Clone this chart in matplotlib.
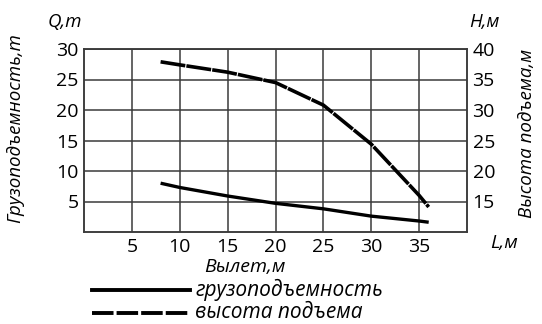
import matplotlib
matplotlib.use("Agg")
import matplotlib.pyplot as plt
from matplotlib.lines import Line2D

plt.rcParams["lines.scale_dashes"] = False

# reach, m
reach = [8, 10, 15, 20, 25, 30, 35, 36]
# lifting capacity Q, t (left axis)
capacity = [8.0, 7.3, 5.9, 4.7, 3.8, 2.6, 1.8, 1.6]
# lifting height H, m (right axis)
height = [37.9, 37.4, 36.2, 34.5, 30.8, 24.4, 16.0, 14.1]

xticks = [5, 10, 15, 20, 25, 30, 35]
qticks = [5, 10, 15, 20, 25, 30]
hticks = [15, 20, 25, 30, 35, 40]

FAM = ["Open Sans", "DejaVu Sans"]
grid_c = "#3a3a3a"

fig = plt.figure(figsize=(5.42, 3.24), dpi=100)
ax = fig.add_axes([84 / 542, 1 - 232 / 324, (467 - 84) / 542, (232 - 49) / 324])
ax2 = ax.twinx()

ax.set_xlim(0, 40)
ax.set_ylim(0, 30)
ax2.set_ylim(10, 40)

ax.set_xticks(xticks)
ax.set_yticks(qticks)
ax2.set_yticks(hticks)
ax.grid(True, color=grid_c, linewidth=1.1)
for a in (ax, ax2):
    a.tick_params(length=0, labelsize=14, colors="black", pad=4)
    for s in a.spines.values():
        s.set_color(grid_c)
        s.set_linewidth(1.1)
for lab in ax.get_xticklabels() + ax.get_yticklabels() + ax2.get_yticklabels():
    lab.set_family(FAM)

ax.plot(reach, capacity, color="black", linewidth=2.4, solid_capstyle="butt")
ax2.plot(reach, height, color="black", linewidth=2.6,
         linestyle=(0, (18, 0.8)), dash_capstyle="butt")

it = dict(family=FAM, style="italic", fontsize=13.5, color="black")
fig.text(48 / 542, 1 - 22 / 324, "Q,т", ha="left", va="center", **it)
fig.text(469 / 542, 1 - 22 / 324, "H,м", ha="left", va="center", **it)
fig.text(15 / 542, 1 - 128 / 324, "Грузоподъемность,т", rotation=90,
         ha="center", va="center", **it)
fig.text(527 / 542, 1 - 133 / 324, "Высота подъема,м", rotation=90,
         ha="center", va="center", **it)
fig.text(245 / 542, 1 - 267 / 324, "Вылет,м", ha="center", va="center",
         **dict(it, fontsize=14))
fig.text(490 / 542, 1 - 243 / 324, "L,м", ha="left", va="center",
         **dict(it, fontsize=14))

# legend
fig.add_artist(Line2D([92 / 542, 190 / 542], [1 - 290 / 324] * 2,
                      color="black", linewidth=2.8))
fig.add_artist(Line2D([92 / 542, 190 / 542], [1 - 313 / 324] * 2,
                      color="black", linewidth=2.8, linestyle=(0, (15.5, 2.2)),
                      dash_capstyle="butt"))
fig.text(195 / 542, 1 - 290 / 324, "грузоподъемность", ha="left", va="center",
         **dict(it, fontsize=15))
fig.text(195 / 542, 1 - 313 / 324, "высота подъема", ha="left", va="center",
         **dict(it, fontsize=15))

fig.savefig("out.png", dpi=100)
